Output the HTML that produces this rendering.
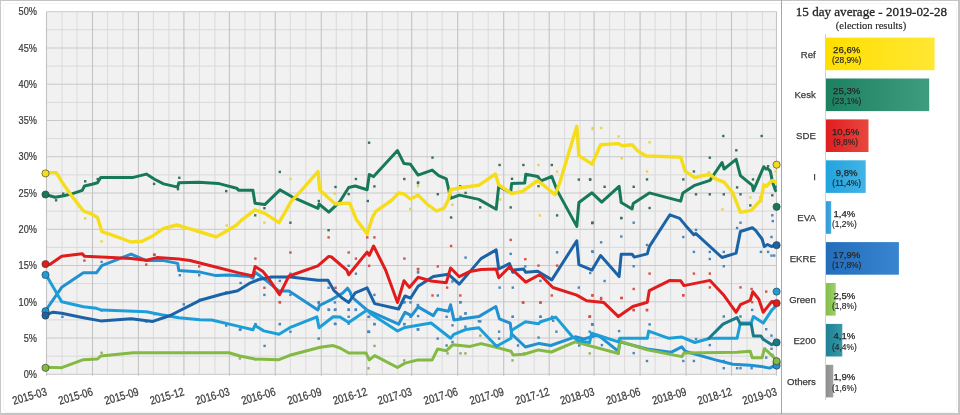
<!DOCTYPE html>
<html><head><meta charset="utf-8"><style>
html,body{margin:0;padding:0;background:#fff;}
body{width:960px;height:415px;overflow:hidden;position:relative;font-family:"Liberation Sans",sans-serif;}
svg{position:absolute;left:0;top:0;filter:blur(0.3px);font-family:"Liberation Sans",sans-serif;}
</style></head><body>
<svg width="960" height="415" viewBox="0 0 960 415">
<defs><linearGradient id="gref" x1="0" x2="1" y1="0" y2="0"><stop offset="0" stop-color="#ffdf00"/><stop offset="1" stop-color="#ffe733"/></linearGradient><linearGradient id="gkesk" x1="0" x2="1" y1="0" y2="0"><stop offset="0" stop-color="#1c8160"/><stop offset="1" stop-color="#3f9c7e"/></linearGradient><linearGradient id="gsde" x1="0" x2="1" y1="0" y2="0"><stop offset="0" stop-color="#df1d1f"/><stop offset="1" stop-color="#e9473f"/></linearGradient><linearGradient id="gi" x1="0" x2="1" y1="0" y2="0"><stop offset="0" stop-color="#22a3dd"/><stop offset="1" stop-color="#41b4e6"/></linearGradient><linearGradient id="geva" x1="0" x2="1" y1="0" y2="0"><stop offset="0" stop-color="#2e98d8"/><stop offset="1" stop-color="#45a8e0"/></linearGradient><linearGradient id="gekre" x1="0" x2="1" y1="0" y2="0"><stop offset="0" stop-color="#236dbb"/><stop offset="1" stop-color="#3985d0"/></linearGradient><linearGradient id="ggreen" x1="0" x2="1" y1="0" y2="0"><stop offset="0" stop-color="#82bd48"/><stop offset="1" stop-color="#9dd06a"/></linearGradient><linearGradient id="ge200" x1="0" x2="1" y1="0" y2="0"><stop offset="0" stop-color="#1d8093"/><stop offset="1" stop-color="#379aab"/></linearGradient><linearGradient id="goth" x1="0" x2="1" y1="0" y2="0"><stop offset="0" stop-color="#8c8c8c"/><stop offset="1" stop-color="#a2a2a2"/></linearGradient></defs>
<rect x="0" y="0" width="960" height="415" fill="#fff"/>
<rect x="0" y="0" width="960" height="1" fill="#c4c4c4"/><rect x="0" y="413" width="960" height="2" fill="#c4c4c4"/><rect x="0" y="0" width="1" height="415" fill="#c8c8c8"/><rect x="958" y="0" width="2" height="415" fill="#c4c4c4"/>
<rect x="3.5" y="3.5" width="953" height="409" rx="4" fill="none" stroke="#f5f5f5" stroke-width="1"/>
<line x1="781.5" y1="0" x2="781.5" y2="414" stroke="#a6a6a6" stroke-width="1"/>
<rect x="46.5" y="11.7" width="730.0" height="362.6" fill="#f1f1f1"/>
<line x1="62.0" y1="11.7" x2="62.0" y2="374.3" stroke="#dcdcdc" stroke-width="1.1"/>
<line x1="77.0" y1="11.7" x2="77.0" y2="374.3" stroke="#dcdcdc" stroke-width="1.1"/>
<line x1="107.5" y1="11.7" x2="107.5" y2="374.3" stroke="#dcdcdc" stroke-width="1.1"/>
<line x1="122.9" y1="11.7" x2="122.9" y2="374.3" stroke="#dcdcdc" stroke-width="1.1"/>
<line x1="153.4" y1="11.7" x2="153.4" y2="374.3" stroke="#dcdcdc" stroke-width="1.1"/>
<line x1="168.9" y1="11.7" x2="168.9" y2="374.3" stroke="#dcdcdc" stroke-width="1.1"/>
<line x1="199.4" y1="11.7" x2="199.4" y2="374.3" stroke="#dcdcdc" stroke-width="1.1"/>
<line x1="214.9" y1="11.7" x2="214.9" y2="374.3" stroke="#dcdcdc" stroke-width="1.1"/>
<line x1="244.9" y1="11.7" x2="244.9" y2="374.3" stroke="#dcdcdc" stroke-width="1.1"/>
<line x1="259.9" y1="11.7" x2="259.9" y2="374.3" stroke="#dcdcdc" stroke-width="1.1"/>
<line x1="290.3" y1="11.7" x2="290.3" y2="374.3" stroke="#dcdcdc" stroke-width="1.1"/>
<line x1="305.8" y1="11.7" x2="305.8" y2="374.3" stroke="#dcdcdc" stroke-width="1.1"/>
<line x1="336.3" y1="11.7" x2="336.3" y2="374.3" stroke="#dcdcdc" stroke-width="1.1"/>
<line x1="351.8" y1="11.7" x2="351.8" y2="374.3" stroke="#dcdcdc" stroke-width="1.1"/>
<line x1="382.3" y1="11.7" x2="382.3" y2="374.3" stroke="#dcdcdc" stroke-width="1.1"/>
<line x1="397.8" y1="11.7" x2="397.8" y2="374.3" stroke="#dcdcdc" stroke-width="1.1"/>
<line x1="427.2" y1="11.7" x2="427.2" y2="374.3" stroke="#dcdcdc" stroke-width="1.1"/>
<line x1="442.2" y1="11.7" x2="442.2" y2="374.3" stroke="#dcdcdc" stroke-width="1.1"/>
<line x1="472.7" y1="11.7" x2="472.7" y2="374.3" stroke="#dcdcdc" stroke-width="1.1"/>
<line x1="488.2" y1="11.7" x2="488.2" y2="374.3" stroke="#dcdcdc" stroke-width="1.1"/>
<line x1="518.7" y1="11.7" x2="518.7" y2="374.3" stroke="#dcdcdc" stroke-width="1.1"/>
<line x1="534.2" y1="11.7" x2="534.2" y2="374.3" stroke="#dcdcdc" stroke-width="1.1"/>
<line x1="564.6" y1="11.7" x2="564.6" y2="374.3" stroke="#dcdcdc" stroke-width="1.1"/>
<line x1="580.1" y1="11.7" x2="580.1" y2="374.3" stroke="#dcdcdc" stroke-width="1.1"/>
<line x1="609.6" y1="11.7" x2="609.6" y2="374.3" stroke="#dcdcdc" stroke-width="1.1"/>
<line x1="624.6" y1="11.7" x2="624.6" y2="374.3" stroke="#dcdcdc" stroke-width="1.1"/>
<line x1="655.1" y1="11.7" x2="655.1" y2="374.3" stroke="#dcdcdc" stroke-width="1.1"/>
<line x1="670.6" y1="11.7" x2="670.6" y2="374.3" stroke="#dcdcdc" stroke-width="1.1"/>
<line x1="701.1" y1="11.7" x2="701.1" y2="374.3" stroke="#dcdcdc" stroke-width="1.1"/>
<line x1="716.5" y1="11.7" x2="716.5" y2="374.3" stroke="#dcdcdc" stroke-width="1.1"/>
<line x1="747.0" y1="11.7" x2="747.0" y2="374.3" stroke="#dcdcdc" stroke-width="1.1"/>
<line x1="762.5" y1="11.7" x2="762.5" y2="374.3" stroke="#dcdcdc" stroke-width="1.1"/>
<line x1="46.5" y1="11.7" x2="776.5" y2="11.7" stroke="#c9c9c9" stroke-width="1"/>
<line x1="46.5" y1="29.8" x2="776.5" y2="29.8" stroke="#d9d9d9" stroke-width="1"/>
<line x1="46.5" y1="48.0" x2="776.5" y2="48.0" stroke="#c9c9c9" stroke-width="1"/>
<line x1="46.5" y1="66.1" x2="776.5" y2="66.1" stroke="#d9d9d9" stroke-width="1"/>
<line x1="46.5" y1="84.2" x2="776.5" y2="84.2" stroke="#c9c9c9" stroke-width="1"/>
<line x1="46.5" y1="102.4" x2="776.5" y2="102.4" stroke="#d9d9d9" stroke-width="1"/>
<line x1="46.5" y1="120.5" x2="776.5" y2="120.5" stroke="#c9c9c9" stroke-width="1"/>
<line x1="46.5" y1="138.6" x2="776.5" y2="138.6" stroke="#d9d9d9" stroke-width="1"/>
<line x1="46.5" y1="156.7" x2="776.5" y2="156.7" stroke="#c9c9c9" stroke-width="1"/>
<line x1="46.5" y1="174.9" x2="776.5" y2="174.9" stroke="#d9d9d9" stroke-width="1"/>
<line x1="46.5" y1="193.0" x2="776.5" y2="193.0" stroke="#c9c9c9" stroke-width="1"/>
<line x1="46.5" y1="211.1" x2="776.5" y2="211.1" stroke="#d9d9d9" stroke-width="1"/>
<line x1="46.5" y1="229.3" x2="776.5" y2="229.3" stroke="#c9c9c9" stroke-width="1"/>
<line x1="46.5" y1="247.4" x2="776.5" y2="247.4" stroke="#d9d9d9" stroke-width="1"/>
<line x1="46.5" y1="265.5" x2="776.5" y2="265.5" stroke="#c9c9c9" stroke-width="1"/>
<line x1="46.5" y1="283.6" x2="776.5" y2="283.6" stroke="#d9d9d9" stroke-width="1"/>
<line x1="46.5" y1="301.8" x2="776.5" y2="301.8" stroke="#c9c9c9" stroke-width="1"/>
<line x1="46.5" y1="319.9" x2="776.5" y2="319.9" stroke="#d9d9d9" stroke-width="1"/>
<line x1="46.5" y1="338.0" x2="776.5" y2="338.0" stroke="#c9c9c9" stroke-width="1"/>
<line x1="46.5" y1="356.2" x2="776.5" y2="356.2" stroke="#d9d9d9" stroke-width="1"/>
<line x1="46.5" y1="374.3" x2="776.5" y2="374.3" stroke="#c9c9c9" stroke-width="1"/>
<line x1="46.5" y1="11.7" x2="46.5" y2="375.8" stroke="#c4c4c4" stroke-width="1.1"/>
<line x1="92.5" y1="11.7" x2="92.5" y2="375.8" stroke="#c4c4c4" stroke-width="1.1"/>
<line x1="138.4" y1="11.7" x2="138.4" y2="375.8" stroke="#c4c4c4" stroke-width="1.1"/>
<line x1="183.9" y1="11.7" x2="183.9" y2="375.8" stroke="#c4c4c4" stroke-width="1.1"/>
<line x1="229.4" y1="11.7" x2="229.4" y2="375.8" stroke="#c4c4c4" stroke-width="1.1"/>
<line x1="275.3" y1="11.7" x2="275.3" y2="375.8" stroke="#c4c4c4" stroke-width="1.1"/>
<line x1="321.3" y1="11.7" x2="321.3" y2="375.8" stroke="#c4c4c4" stroke-width="1.1"/>
<line x1="366.8" y1="11.7" x2="366.8" y2="375.8" stroke="#c4c4c4" stroke-width="1.1"/>
<line x1="411.7" y1="11.7" x2="411.7" y2="375.8" stroke="#c4c4c4" stroke-width="1.1"/>
<line x1="457.7" y1="11.7" x2="457.7" y2="375.8" stroke="#c4c4c4" stroke-width="1.1"/>
<line x1="503.7" y1="11.7" x2="503.7" y2="375.8" stroke="#c4c4c4" stroke-width="1.1"/>
<line x1="549.2" y1="11.7" x2="549.2" y2="375.8" stroke="#c4c4c4" stroke-width="1.1"/>
<line x1="594.1" y1="11.7" x2="594.1" y2="375.8" stroke="#c4c4c4" stroke-width="1.1"/>
<line x1="640.1" y1="11.7" x2="640.1" y2="375.8" stroke="#c4c4c4" stroke-width="1.1"/>
<line x1="686.1" y1="11.7" x2="686.1" y2="375.8" stroke="#c4c4c4" stroke-width="1.1"/>
<line x1="731.5" y1="11.7" x2="731.5" y2="375.8" stroke="#c4c4c4" stroke-width="1.1"/>
<line x1="776.5" y1="11.7" x2="776.5" y2="375.8" stroke="#c4c4c4" stroke-width="1.1"/>
<rect x="84.0" y="217.2" width="2.4" height="2.4" fill="#e6d44a"/>
<rect x="100.4" y="240.2" width="2.4" height="2.4" fill="#e6d44a"/>
<rect x="225.5" y="224.3" width="2.4" height="2.4" fill="#e6d44a"/>
<rect x="289.2" y="177.8" width="2.4" height="2.4" fill="#e6d44a"/>
<rect x="263.2" y="221.5" width="2.4" height="2.4" fill="#e6d44a"/>
<rect x="409.0" y="207.8" width="2.4" height="2.4" fill="#e6d44a"/>
<rect x="333.5" y="192.4" width="2.4" height="2.4" fill="#e6d44a"/>
<rect x="416.8" y="185.0" width="2.4" height="2.4" fill="#e6d44a"/>
<rect x="538.6" y="214.2" width="2.4" height="2.4" fill="#e6d44a"/>
<rect x="537.3" y="163.8" width="2.4" height="2.4" fill="#e6d44a"/>
<rect x="555.9" y="170.5" width="2.4" height="2.4" fill="#e6d44a"/>
<rect x="591.6" y="126.8" width="2.4" height="2.4" fill="#e6d44a"/>
<rect x="451.2" y="203.6" width="2.4" height="2.4" fill="#e6d44a"/>
<rect x="498.9" y="198.3" width="2.4" height="2.4" fill="#e6d44a"/>
<rect x="599.9" y="126.8" width="2.4" height="2.4" fill="#e6d44a"/>
<rect x="591.4" y="127.9" width="2.4" height="2.4" fill="#e6d44a"/>
<rect x="617.4" y="135.3" width="2.4" height="2.4" fill="#e6d44a"/>
<rect x="648.4" y="141.1" width="2.4" height="2.4" fill="#e6d44a"/>
<rect x="645.8" y="170.3" width="2.4" height="2.4" fill="#e6d44a"/>
<rect x="620.6" y="157.0" width="2.4" height="2.4" fill="#e6d44a"/>
<rect x="707.5" y="171.1" width="2.4" height="2.4" fill="#e6d44a"/>
<rect x="721.3" y="208.2" width="2.4" height="2.4" fill="#e6d44a"/>
<rect x="749.1" y="196.2" width="2.4" height="2.4" fill="#e6d44a"/>
<rect x="759.7" y="200.2" width="2.4" height="2.4" fill="#e6d44a"/>
<rect x="774.3" y="170.3" width="2.4" height="2.4" fill="#e6d44a"/>
<rect x="100.4" y="351.6" width="2.4" height="2.4" fill="#8fae6a"/>
<rect x="238.7" y="357.2" width="2.4" height="2.4" fill="#8fae6a"/>
<rect x="254.5" y="358.2" width="2.4" height="2.4" fill="#8fae6a"/>
<rect x="403.0" y="359.2" width="2.4" height="2.4" fill="#8fae6a"/>
<rect x="511.3" y="315.6" width="2.4" height="2.4" fill="#8fae6a"/>
<rect x="479.1" y="334.4" width="2.4" height="2.4" fill="#8fae6a"/>
<rect x="373.3" y="344.7" width="2.4" height="2.4" fill="#8fae6a"/>
<rect x="367.3" y="367.1" width="2.4" height="2.4" fill="#8fae6a"/>
<rect x="446.4" y="352.2" width="2.4" height="2.4" fill="#8fae6a"/>
<rect x="459.3" y="352.2" width="2.4" height="2.4" fill="#8fae6a"/>
<rect x="464.2" y="352.2" width="2.4" height="2.4" fill="#8fae6a"/>
<rect x="522.6" y="352.2" width="2.4" height="2.4" fill="#8fae6a"/>
<rect x="588.5" y="352.2" width="2.4" height="2.4" fill="#8fae6a"/>
<rect x="511.3" y="359.2" width="2.4" height="2.4" fill="#8fae6a"/>
<rect x="278.7" y="322.9" width="2.4" height="2.4" fill="#8fae6a"/>
<rect x="648.4" y="323.2" width="2.4" height="2.4" fill="#3f8a8c"/>
<rect x="722.6" y="315.3" width="2.4" height="2.4" fill="#3f8a8c"/>
<rect x="739.3" y="315.3" width="2.4" height="2.4" fill="#3f8a8c"/>
<rect x="317.5" y="337.4" width="2.4" height="2.4" fill="#3f8a8c"/>
<rect x="459.3" y="301.2" width="2.4" height="2.4" fill="#3f8a8c"/>
<rect x="373.3" y="322.9" width="2.4" height="2.4" fill="#3f8a8c"/>
<rect x="367.3" y="330.5" width="2.4" height="2.4" fill="#3f8a8c"/>
<rect x="100.4" y="260.7" width="2.4" height="2.4" fill="#4d86b8"/>
<rect x="178.6" y="274.0" width="2.4" height="2.4" fill="#4d86b8"/>
<rect x="198.0" y="274.0" width="2.4" height="2.4" fill="#4d86b8"/>
<rect x="182.6" y="303.1" width="2.4" height="2.4" fill="#4d86b8"/>
<rect x="225.0" y="324.3" width="2.4" height="2.4" fill="#4d86b8"/>
<rect x="61.2" y="315.6" width="2.4" height="2.4" fill="#4d86b8"/>
<rect x="100.4" y="309.2" width="2.4" height="2.4" fill="#4d86b8"/>
<rect x="145.0" y="320.3" width="2.4" height="2.4" fill="#4d86b8"/>
<rect x="153.4" y="312.9" width="2.4" height="2.4" fill="#4d86b8"/>
<rect x="198.5" y="298.6" width="2.4" height="2.4" fill="#4d86b8"/>
<rect x="225.0" y="291.2" width="2.4" height="2.4" fill="#4d86b8"/>
<rect x="239.4" y="281.8" width="2.4" height="2.4" fill="#4d86b8"/>
<rect x="263.2" y="293.7" width="2.4" height="2.4" fill="#4d86b8"/>
<rect x="278.6" y="279.7" width="2.4" height="2.4" fill="#4d86b8"/>
<rect x="289.2" y="272.5" width="2.4" height="2.4" fill="#4d86b8"/>
<rect x="289.2" y="293.7" width="2.4" height="2.4" fill="#4d86b8"/>
<rect x="327.4" y="286.6" width="2.4" height="2.4" fill="#4d86b8"/>
<rect x="347.5" y="264.6" width="2.4" height="2.4" fill="#4d86b8"/>
<rect x="354.7" y="272.5" width="2.4" height="2.4" fill="#4d86b8"/>
<rect x="373.2" y="293.7" width="2.4" height="2.4" fill="#4d86b8"/>
<rect x="403.2" y="300.9" width="2.4" height="2.4" fill="#4d86b8"/>
<rect x="416.9" y="270.7" width="2.4" height="2.4" fill="#4d86b8"/>
<rect x="327.4" y="308.3" width="2.4" height="2.4" fill="#4d86b8"/>
<rect x="334.3" y="308.3" width="2.4" height="2.4" fill="#4d86b8"/>
<rect x="347.5" y="308.3" width="2.4" height="2.4" fill="#4d86b8"/>
<rect x="354.7" y="308.3" width="2.4" height="2.4" fill="#4d86b8"/>
<rect x="367.9" y="315.7" width="2.4" height="2.4" fill="#4d86b8"/>
<rect x="373.2" y="322.9" width="2.4" height="2.4" fill="#4d86b8"/>
<rect x="403.2" y="322.9" width="2.4" height="2.4" fill="#4d86b8"/>
<rect x="416.9" y="314.9" width="2.4" height="2.4" fill="#4d86b8"/>
<rect x="239.4" y="328.2" width="2.4" height="2.4" fill="#4d86b8"/>
<rect x="278.6" y="322.9" width="2.4" height="2.4" fill="#4d86b8"/>
<rect x="334.3" y="322.9" width="2.4" height="2.4" fill="#4d86b8"/>
<rect x="367.9" y="330.8" width="2.4" height="2.4" fill="#4d86b8"/>
<rect x="416.9" y="328.2" width="2.4" height="2.4" fill="#4d86b8"/>
<rect x="254.2" y="322.9" width="2.4" height="2.4" fill="#4d86b8"/>
<rect x="317.6" y="300.9" width="2.4" height="2.4" fill="#4d86b8"/>
<rect x="416.8" y="271.3" width="2.4" height="2.4" fill="#4d86b8"/>
<rect x="436.6" y="294.3" width="2.4" height="2.4" fill="#4d86b8"/>
<rect x="464.4" y="256.4" width="2.4" height="2.4" fill="#4d86b8"/>
<rect x="451.2" y="280.3" width="2.4" height="2.4" fill="#4d86b8"/>
<rect x="509.5" y="252.7" width="2.4" height="2.4" fill="#4d86b8"/>
<rect x="498.4" y="286.4" width="2.4" height="2.4" fill="#4d86b8"/>
<rect x="511.6" y="286.4" width="2.4" height="2.4" fill="#4d86b8"/>
<rect x="524.1" y="265.2" width="2.4" height="2.4" fill="#4d86b8"/>
<rect x="524.1" y="280.3" width="2.4" height="2.4" fill="#4d86b8"/>
<rect x="539.2" y="279.7" width="2.4" height="2.4" fill="#4d86b8"/>
<rect x="555.9" y="251.1" width="2.4" height="2.4" fill="#4d86b8"/>
<rect x="577.6" y="286.4" width="2.4" height="2.4" fill="#4d86b8"/>
<rect x="591.1" y="250.1" width="2.4" height="2.4" fill="#4d86b8"/>
<rect x="591.1" y="222.0" width="2.4" height="2.4" fill="#4d86b8"/>
<rect x="589.0" y="271.8" width="2.4" height="2.4" fill="#4d86b8"/>
<rect x="416.8" y="304.1" width="2.4" height="2.4" fill="#4d86b8"/>
<rect x="459.1" y="300.9" width="2.4" height="2.4" fill="#4d86b8"/>
<rect x="464.4" y="312.1" width="2.4" height="2.4" fill="#4d86b8"/>
<rect x="477.7" y="320.0" width="2.4" height="2.4" fill="#4d86b8"/>
<rect x="511.6" y="315.5" width="2.4" height="2.4" fill="#4d86b8"/>
<rect x="539.2" y="315.5" width="2.4" height="2.4" fill="#4d86b8"/>
<rect x="551.9" y="319.5" width="2.4" height="2.4" fill="#4d86b8"/>
<rect x="591.1" y="323.5" width="2.4" height="2.4" fill="#4d86b8"/>
<rect x="591.4" y="221.5" width="2.4" height="2.4" fill="#4d86b8"/>
<rect x="620.1" y="216.8" width="2.4" height="2.4" fill="#4d86b8"/>
<rect x="632.5" y="221.5" width="2.4" height="2.4" fill="#4d86b8"/>
<rect x="599.9" y="241.1" width="2.4" height="2.4" fill="#4d86b8"/>
<rect x="620.1" y="235.3" width="2.4" height="2.4" fill="#4d86b8"/>
<rect x="682.1" y="235.8" width="2.4" height="2.4" fill="#4d86b8"/>
<rect x="694.8" y="228.7" width="2.4" height="2.4" fill="#4d86b8"/>
<rect x="591.4" y="250.7" width="2.4" height="2.4" fill="#4d86b8"/>
<rect x="632.5" y="265.0" width="2.4" height="2.4" fill="#4d86b8"/>
<rect x="645.8" y="243.8" width="2.4" height="2.4" fill="#4d86b8"/>
<rect x="692.7" y="250.7" width="2.4" height="2.4" fill="#4d86b8"/>
<rect x="708.6" y="250.7" width="2.4" height="2.4" fill="#4d86b8"/>
<rect x="708.6" y="257.8" width="2.4" height="2.4" fill="#4d86b8"/>
<rect x="722.6" y="250.7" width="2.4" height="2.4" fill="#4d86b8"/>
<rect x="722.6" y="265.0" width="2.4" height="2.4" fill="#4d86b8"/>
<rect x="735.9" y="226.8" width="2.4" height="2.4" fill="#4d86b8"/>
<rect x="739.3" y="221.5" width="2.4" height="2.4" fill="#4d86b8"/>
<rect x="759.7" y="250.7" width="2.4" height="2.4" fill="#4d86b8"/>
<rect x="766.9" y="250.7" width="2.4" height="2.4" fill="#4d86b8"/>
<rect x="770.3" y="254.4" width="2.4" height="2.4" fill="#4d86b8"/>
<rect x="773.0" y="254.4" width="2.4" height="2.4" fill="#4d86b8"/>
<rect x="771.1" y="214.1" width="2.4" height="2.4" fill="#4d86b8"/>
<rect x="771.6" y="219.9" width="2.4" height="2.4" fill="#4d86b8"/>
<rect x="770.3" y="235.8" width="2.4" height="2.4" fill="#4d86b8"/>
<rect x="603.4" y="279.8" width="2.4" height="2.4" fill="#4d86b8"/>
<rect x="617.9" y="329.9" width="2.4" height="2.4" fill="#4d86b8"/>
<rect x="591.4" y="323.2" width="2.4" height="2.4" fill="#4d86b8"/>
<rect x="600.7" y="343.9" width="2.4" height="2.4" fill="#4d86b8"/>
<rect x="632.5" y="351.9" width="2.4" height="2.4" fill="#4d86b8"/>
<rect x="645.8" y="359.8" width="2.4" height="2.4" fill="#4d86b8"/>
<rect x="694.8" y="337.8" width="2.4" height="2.4" fill="#4d86b8"/>
<rect x="682.1" y="359.8" width="2.4" height="2.4" fill="#4d86b8"/>
<rect x="692.7" y="359.8" width="2.4" height="2.4" fill="#4d86b8"/>
<rect x="708.6" y="343.9" width="2.4" height="2.4" fill="#4d86b8"/>
<rect x="722.6" y="359.8" width="2.4" height="2.4" fill="#4d86b8"/>
<rect x="722.6" y="367.0" width="2.4" height="2.4" fill="#4d86b8"/>
<rect x="735.9" y="367.0" width="2.4" height="2.4" fill="#4d86b8"/>
<rect x="739.3" y="367.0" width="2.4" height="2.4" fill="#4d86b8"/>
<rect x="750.4" y="367.0" width="2.4" height="2.4" fill="#4d86b8"/>
<rect x="751.0" y="308.7" width="2.4" height="2.4" fill="#4d86b8"/>
<rect x="765.0" y="328.0" width="2.4" height="2.4" fill="#4d86b8"/>
<rect x="770.3" y="334.4" width="2.4" height="2.4" fill="#4d86b8"/>
<rect x="763.7" y="347.6" width="2.4" height="2.4" fill="#4d86b8"/>
<rect x="771.1" y="353.7" width="2.4" height="2.4" fill="#4d86b8"/>
<rect x="765.0" y="356.4" width="2.4" height="2.4" fill="#4d86b8"/>
<rect x="770.3" y="347.6" width="2.4" height="2.4" fill="#4d86b8"/>
<rect x="317.5" y="301.8" width="2.4" height="2.4" fill="#4d86b8"/>
<rect x="333.7" y="301.2" width="2.4" height="2.4" fill="#4d86b8"/>
<rect x="327.8" y="308.7" width="2.4" height="2.4" fill="#4d86b8"/>
<rect x="333.7" y="308.7" width="2.4" height="2.4" fill="#4d86b8"/>
<rect x="347.5" y="308.7" width="2.4" height="2.4" fill="#4d86b8"/>
<rect x="354.5" y="308.7" width="2.4" height="2.4" fill="#4d86b8"/>
<rect x="347.5" y="315.6" width="2.4" height="2.4" fill="#4d86b8"/>
<rect x="367.3" y="315.6" width="2.4" height="2.4" fill="#4d86b8"/>
<rect x="333.7" y="322.5" width="2.4" height="2.4" fill="#4d86b8"/>
<rect x="347.5" y="322.5" width="2.4" height="2.4" fill="#4d86b8"/>
<rect x="254.5" y="323.5" width="2.4" height="2.4" fill="#4d86b8"/>
<rect x="238.7" y="328.5" width="2.4" height="2.4" fill="#4d86b8"/>
<rect x="289.2" y="330.5" width="2.4" height="2.4" fill="#4d86b8"/>
<rect x="367.3" y="330.5" width="2.4" height="2.4" fill="#4d86b8"/>
<rect x="263.4" y="344.7" width="2.4" height="2.4" fill="#4d86b8"/>
<rect x="403.0" y="301.2" width="2.4" height="2.4" fill="#4d86b8"/>
<rect x="409.3" y="301.2" width="2.4" height="2.4" fill="#4d86b8"/>
<rect x="403.0" y="322.9" width="2.4" height="2.4" fill="#4d86b8"/>
<rect x="409.3" y="315.6" width="2.4" height="2.4" fill="#4d86b8"/>
<rect x="416.8" y="328.1" width="2.4" height="2.4" fill="#4d86b8"/>
<rect x="416.7" y="303.8" width="2.4" height="2.4" fill="#4d86b8"/>
<rect x="464.2" y="312.3" width="2.4" height="2.4" fill="#4d86b8"/>
<rect x="445.4" y="315.6" width="2.4" height="2.4" fill="#4d86b8"/>
<rect x="459.3" y="315.6" width="2.4" height="2.4" fill="#4d86b8"/>
<rect x="479.1" y="320.2" width="2.4" height="2.4" fill="#4d86b8"/>
<rect x="539.4" y="315.6" width="2.4" height="2.4" fill="#4d86b8"/>
<rect x="550.9" y="315.6" width="2.4" height="2.4" fill="#4d86b8"/>
<rect x="590.9" y="322.9" width="2.4" height="2.4" fill="#4d86b8"/>
<rect x="416.7" y="328.1" width="2.4" height="2.4" fill="#4d86b8"/>
<rect x="451.3" y="324.1" width="2.4" height="2.4" fill="#4d86b8"/>
<rect x="464.2" y="325.5" width="2.4" height="2.4" fill="#4d86b8"/>
<rect x="497.9" y="330.5" width="2.4" height="2.4" fill="#4d86b8"/>
<rect x="555.2" y="330.5" width="2.4" height="2.4" fill="#4d86b8"/>
<rect x="588.5" y="330.5" width="2.4" height="2.4" fill="#4d86b8"/>
<rect x="436.5" y="337.4" width="2.4" height="2.4" fill="#4d86b8"/>
<rect x="451.3" y="340.8" width="2.4" height="2.4" fill="#4d86b8"/>
<rect x="497.9" y="337.4" width="2.4" height="2.4" fill="#4d86b8"/>
<rect x="537.4" y="336.4" width="2.4" height="2.4" fill="#4d86b8"/>
<rect x="445.4" y="344.3" width="2.4" height="2.4" fill="#4d86b8"/>
<rect x="516.8" y="344.3" width="2.4" height="2.4" fill="#4d86b8"/>
<rect x="578.0" y="344.3" width="2.4" height="2.4" fill="#4d86b8"/>
<rect x="152.9" y="253.5" width="2.4" height="2.4" fill="#d8504a"/>
<rect x="83.2" y="259.4" width="2.4" height="2.4" fill="#d8504a"/>
<rect x="153.4" y="253.6" width="2.4" height="2.4" fill="#d8504a"/>
<rect x="145.0" y="263.4" width="2.4" height="2.4" fill="#d8504a"/>
<rect x="198.0" y="265.2" width="2.4" height="2.4" fill="#d8504a"/>
<rect x="327.4" y="236.2" width="2.4" height="2.4" fill="#d8504a"/>
<rect x="366.1" y="236.2" width="2.4" height="2.4" fill="#d8504a"/>
<rect x="373.2" y="236.2" width="2.4" height="2.4" fill="#d8504a"/>
<rect x="289.2" y="251.3" width="2.4" height="2.4" fill="#d8504a"/>
<rect x="254.2" y="257.4" width="2.4" height="2.4" fill="#d8504a"/>
<rect x="347.5" y="251.3" width="2.4" height="2.4" fill="#d8504a"/>
<rect x="403.2" y="257.4" width="2.4" height="2.4" fill="#d8504a"/>
<rect x="416.9" y="268.0" width="2.4" height="2.4" fill="#d8504a"/>
<rect x="367.9" y="264.6" width="2.4" height="2.4" fill="#d8504a"/>
<rect x="263.2" y="286.6" width="2.4" height="2.4" fill="#d8504a"/>
<rect x="278.6" y="300.9" width="2.4" height="2.4" fill="#d8504a"/>
<rect x="334.3" y="286.6" width="2.4" height="2.4" fill="#d8504a"/>
<rect x="354.7" y="257.4" width="2.4" height="2.4" fill="#d8504a"/>
<rect x="509.5" y="238.7" width="2.4" height="2.4" fill="#d8504a"/>
<rect x="449.9" y="244.8" width="2.4" height="2.4" fill="#d8504a"/>
<rect x="416.8" y="267.8" width="2.4" height="2.4" fill="#d8504a"/>
<rect x="436.6" y="265.2" width="2.4" height="2.4" fill="#d8504a"/>
<rect x="524.1" y="258.0" width="2.4" height="2.4" fill="#d8504a"/>
<rect x="537.3" y="264.4" width="2.4" height="2.4" fill="#d8504a"/>
<rect x="555.9" y="264.4" width="2.4" height="2.4" fill="#d8504a"/>
<rect x="431.3" y="294.3" width="2.4" height="2.4" fill="#d8504a"/>
<rect x="459.1" y="294.3" width="2.4" height="2.4" fill="#d8504a"/>
<rect x="445.9" y="286.4" width="2.4" height="2.4" fill="#d8504a"/>
<rect x="522.2" y="301.5" width="2.4" height="2.4" fill="#d8504a"/>
<rect x="539.2" y="301.5" width="2.4" height="2.4" fill="#d8504a"/>
<rect x="550.6" y="294.3" width="2.4" height="2.4" fill="#d8504a"/>
<rect x="591.1" y="294.3" width="2.4" height="2.4" fill="#d8504a"/>
<rect x="588.5" y="315.5" width="2.4" height="2.4" fill="#d8504a"/>
<rect x="648.4" y="272.4" width="2.4" height="2.4" fill="#d8504a"/>
<rect x="692.7" y="272.4" width="2.4" height="2.4" fill="#d8504a"/>
<rect x="708.6" y="272.4" width="2.4" height="2.4" fill="#d8504a"/>
<rect x="632.5" y="287.8" width="2.4" height="2.4" fill="#d8504a"/>
<rect x="708.6" y="286.2" width="2.4" height="2.4" fill="#d8504a"/>
<rect x="682.1" y="294.1" width="2.4" height="2.4" fill="#d8504a"/>
<rect x="591.4" y="294.1" width="2.4" height="2.4" fill="#d8504a"/>
<rect x="599.9" y="296.8" width="2.4" height="2.4" fill="#d8504a"/>
<rect x="620.1" y="296.8" width="2.4" height="2.4" fill="#d8504a"/>
<rect x="632.5" y="309.0" width="2.4" height="2.4" fill="#d8504a"/>
<rect x="645.8" y="309.0" width="2.4" height="2.4" fill="#d8504a"/>
<rect x="739.3" y="286.2" width="2.4" height="2.4" fill="#d8504a"/>
<rect x="750.4" y="287.8" width="2.4" height="2.4" fill="#d8504a"/>
<rect x="751.0" y="301.0" width="2.4" height="2.4" fill="#d8504a"/>
<rect x="765.0" y="290.4" width="2.4" height="2.4" fill="#d8504a"/>
<rect x="620.6" y="296.8" width="2.4" height="2.4" fill="#d8504a"/>
<rect x="599.9" y="298.1" width="2.4" height="2.4" fill="#d8504a"/>
<rect x="645.8" y="308.7" width="2.4" height="2.4" fill="#d8504a"/>
<rect x="632.5" y="308.7" width="2.4" height="2.4" fill="#d8504a"/>
<rect x="682.1" y="294.1" width="2.4" height="2.4" fill="#d8504a"/>
<rect x="588.8" y="315.3" width="2.4" height="2.4" fill="#d8504a"/>
<rect x="521.6" y="301.2" width="2.4" height="2.4" fill="#d8504a"/>
<rect x="539.4" y="301.2" width="2.4" height="2.4" fill="#d8504a"/>
<rect x="588.5" y="315.6" width="2.4" height="2.4" fill="#d8504a"/>
<rect x="278.7" y="301.2" width="2.4" height="2.4" fill="#d8504a"/>
<rect x="54.9" y="199.1" width="2.4" height="2.4" fill="#3f6f58"/>
<rect x="62.0" y="192.5" width="2.4" height="2.4" fill="#3f6f58"/>
<rect x="84.0" y="180.1" width="2.4" height="2.4" fill="#3f6f58"/>
<rect x="96.5" y="177.9" width="2.4" height="2.4" fill="#3f6f58"/>
<rect x="152.9" y="182.7" width="2.4" height="2.4" fill="#3f6f58"/>
<rect x="176.8" y="188.0" width="2.4" height="2.4" fill="#3f6f58"/>
<rect x="178.1" y="176.6" width="2.4" height="2.4" fill="#3f6f58"/>
<rect x="225.0" y="189.9" width="2.4" height="2.4" fill="#3f6f58"/>
<rect x="367.9" y="141.5" width="2.4" height="2.4" fill="#3f6f58"/>
<rect x="278.6" y="170.7" width="2.4" height="2.4" fill="#3f6f58"/>
<rect x="354.7" y="177.8" width="2.4" height="2.4" fill="#3f6f58"/>
<rect x="334.3" y="185.8" width="2.4" height="2.4" fill="#3f6f58"/>
<rect x="373.2" y="185.2" width="2.4" height="2.4" fill="#3f6f58"/>
<rect x="403.1" y="177.8" width="2.4" height="2.4" fill="#3f6f58"/>
<rect x="263.2" y="207.0" width="2.4" height="2.4" fill="#3f6f58"/>
<rect x="254.0" y="214.1" width="2.4" height="2.4" fill="#3f6f58"/>
<rect x="289.2" y="221.5" width="2.4" height="2.4" fill="#3f6f58"/>
<rect x="317.6" y="199.8" width="2.4" height="2.4" fill="#3f6f58"/>
<rect x="347.5" y="192.9" width="2.4" height="2.4" fill="#3f6f58"/>
<rect x="366.6" y="199.8" width="2.4" height="2.4" fill="#3f6f58"/>
<rect x="327.4" y="229.0" width="2.4" height="2.4" fill="#3f6f58"/>
<rect x="416.9" y="181.3" width="2.4" height="2.4" fill="#3f6f58"/>
<rect x="431.3" y="156.4" width="2.4" height="2.4" fill="#3f6f58"/>
<rect x="416.8" y="181.9" width="2.4" height="2.4" fill="#3f6f58"/>
<rect x="436.6" y="193.0" width="2.4" height="2.4" fill="#3f6f58"/>
<rect x="459.1" y="185.0" width="2.4" height="2.4" fill="#3f6f58"/>
<rect x="464.4" y="191.7" width="2.4" height="2.4" fill="#3f6f58"/>
<rect x="479.0" y="206.2" width="2.4" height="2.4" fill="#3f6f58"/>
<rect x="449.9" y="216.3" width="2.4" height="2.4" fill="#3f6f58"/>
<rect x="498.4" y="163.8" width="2.4" height="2.4" fill="#3f6f58"/>
<rect x="522.2" y="163.8" width="2.4" height="2.4" fill="#3f6f58"/>
<rect x="550.6" y="163.8" width="2.4" height="2.4" fill="#3f6f58"/>
<rect x="510.8" y="177.6" width="2.4" height="2.4" fill="#3f6f58"/>
<rect x="537.3" y="185.0" width="2.4" height="2.4" fill="#3f6f58"/>
<rect x="509.5" y="206.2" width="2.4" height="2.4" fill="#3f6f58"/>
<rect x="555.9" y="214.2" width="2.4" height="2.4" fill="#3f6f58"/>
<rect x="577.6" y="178.4" width="2.4" height="2.4" fill="#3f6f58"/>
<rect x="589.0" y="178.4" width="2.4" height="2.4" fill="#3f6f58"/>
<rect x="591.1" y="221.6" width="2.4" height="2.4" fill="#3f6f58"/>
<rect x="722.1" y="134.8" width="2.4" height="2.4" fill="#3f6f58"/>
<rect x="760.5" y="134.8" width="2.4" height="2.4" fill="#3f6f58"/>
<rect x="735.1" y="149.1" width="2.4" height="2.4" fill="#3f6f58"/>
<rect x="708.6" y="156.5" width="2.4" height="2.4" fill="#3f6f58"/>
<rect x="692.7" y="170.3" width="2.4" height="2.4" fill="#3f6f58"/>
<rect x="645.8" y="178.2" width="2.4" height="2.4" fill="#3f6f58"/>
<rect x="682.1" y="178.2" width="2.4" height="2.4" fill="#3f6f58"/>
<rect x="603.4" y="185.6" width="2.4" height="2.4" fill="#3f6f58"/>
<rect x="632.5" y="185.6" width="2.4" height="2.4" fill="#3f6f58"/>
<rect x="694.8" y="193.1" width="2.4" height="2.4" fill="#3f6f58"/>
<rect x="708.6" y="193.1" width="2.4" height="2.4" fill="#3f6f58"/>
<rect x="722.6" y="193.1" width="2.4" height="2.4" fill="#3f6f58"/>
<rect x="735.9" y="186.2" width="2.4" height="2.4" fill="#3f6f58"/>
<rect x="739.3" y="193.1" width="2.4" height="2.4" fill="#3f6f58"/>
<rect x="751.8" y="178.2" width="2.4" height="2.4" fill="#3f6f58"/>
<rect x="766.9" y="165.0" width="2.4" height="2.4" fill="#3f6f58"/>
<rect x="648.4" y="206.8" width="2.4" height="2.4" fill="#3f6f58"/>
<rect x="620.1" y="216.9" width="2.4" height="2.4" fill="#3f6f58"/>
<rect x="749.1" y="204.2" width="2.4" height="2.4" fill="#3f6f58"/>
<rect x="759.7" y="196.2" width="2.4" height="2.4" fill="#3f6f58"/>
<rect x="771.1" y="194.1" width="2.4" height="2.4" fill="#3f6f58"/>
<rect x="774.3" y="185.6" width="2.4" height="2.4" fill="#3f6f58"/>
<rect x="588.8" y="178.2" width="2.4" height="2.4" fill="#3f6f58"/>
<polyline points="46.0,310.0 61.7,287.3 83.4,272.8 96.4,272.8 101.8,265.6 131.1,254.1 146.3,260.6 163.6,260.6 177.7,263.4 178.8,270.6 200.0,272.1 216.0,275.6 229.0,275.0 250.0,276.6 252.9,278.1 255.1,272.3 265.9,280.2 278.9,291.1 289.0,291.1 317.9,309.9 319.4,305.5 333.8,298.3 342.5,293.2 347.5,288.2 350.0,291.8 352.0,297.1 367.1,310.1 398.6,324.2 405.0,312.3 411.6,315.6 418.1,306.9 433.3,315.6 437.6,309.0 448.5,311.2 450.6,304.7 453.9,319.9 478.8,316.6 495.8,306.5 499.4,318.8 510.2,323.1 511.7,334.0 525.4,347.0 539.1,343.4 550.7,345.5 575.3,336.8 583.7,339.0 596.7,335.4 600.3,336.8 618.4,351.3 619.8,341.9 647.1,349.0 671.0,352.3 681.8,346.9 685.1,351.2 715.4,359.9 732.8,364.2 750.2,365.3 761.0,366.4 769.7,368.1 775.1,365.3" fill="none" stroke="#2191d2" stroke-width="3" stroke-linejoin="round" stroke-linecap="round"/>
<polyline points="46.0,367.2 61.7,367.7 83.4,359.7 97.5,359.0 100.7,356.0 133.3,352.7 229.0,352.7 239.9,356.0 255.0,359.0 279.0,359.7 289.8,355.3 320.2,347.3 333.2,345.6 340.0,348.0 348.7,353.0 366.0,353.0 369.3,359.9 374.7,355.6 397.5,367.5 405.0,363.1 418.1,359.9 432.2,359.9 437.6,349.0 446.3,350.8 452.8,344.7 470.1,346.4 481.0,343.6 496.2,347.3 511.0,351.3 513.1,354.9 524.0,354.2 538.4,349.9 551.4,352.0 575.3,341.9 618.4,353.5 619.8,341.2 647.3,349.9 681.8,356.6 684.0,353.0 737.1,352.3 750.2,351.2 752.3,357.7 762.1,357.7 764.3,349.0 767.5,351.2 775.1,358.8" fill="none" stroke="#84b943" stroke-width="3" stroke-linejoin="round" stroke-linecap="round"/>
<polyline points="46.0,274.7 61.7,301.8 83.4,306.8 96.4,308.3 101.8,310.1 146.3,311.8 161.5,314.8 178.8,317.7 200.0,319.8 211.7,320.0 239.9,326.6 252.9,329.8 255.0,325.5 263.8,330.9 279.0,334.2 289.8,327.7 316.9,316.8 319.0,327.7 333.2,316.8 340.0,317.0 348.7,322.5 367.1,310.0 370.4,313.4 397.5,331.0 405.0,327.4 431.1,323.0 450.6,338.2 453.9,334.3 465.8,329.5 478.8,327.8 496.5,346.2 511.0,338.3 511.7,330.3 525.4,321.7 538.4,323.8 540.6,321.7 555.8,317.1 572.4,336.8 578.2,340.5 589.5,342.6 591.6,333.2 618.4,341.9 619.8,338.3 647.3,338.3 648.7,331.1 668.9,338.3 681.8,337.1 694.8,342.5 710.0,338.2 737.1,338.2 740.4,323.0 751.2,323.1 753.4,316.6 763.2,323.1 771.8,310.1 775.1,306.9" fill="none" stroke="#1c9fd8" stroke-width="3" stroke-linejoin="round" stroke-linecap="round"/>
<polyline points="708.9,338.2 723.0,324.1 737.1,317.6 740.4,324.1 751.2,324.1 753.4,336.0 761.0,336.0 763.2,339.3 771.8,344.7 775.1,342.5" fill="none" stroke="#1b7a8a" stroke-width="3" stroke-linejoin="round" stroke-linecap="round"/>
<polyline points="46.0,314.8 53.0,312.2 61.7,313.3 83.4,317.7 100.7,320.9 131.1,318.8 152.8,321.4 170.2,315.5 200.0,300.3 222.5,294.0 237.7,290.8 250.0,283.1 258.7,279.5 271.7,277.1 290.5,277.1 317.9,280.2 328.0,280.2 333.8,290.3 342.5,298.3 348.7,302.5 355.2,292.8 367.1,287.8 374.7,303.6 398.6,309.0 405.0,296.0 410.5,298.2 418.1,286.3 433.3,276.5 448.5,274.3 459.3,284.1 481.0,258.6 496.2,249.9 498.7,269.0 509.5,263.6 512.8,272.3 513.9,270.1 523.6,269.0 525.8,272.3 537.7,271.2 551.8,279.9 576.8,240.8 578.9,264.7 592.0,270.1 600.6,255.6 619.1,276.6 621.2,254.3 632.1,254.3 634.3,257.1 647.3,253.9 649.3,246.6 669.9,214.8 679.7,218.4 685.1,224.9 693.8,234.7 695.9,233.6 722.0,257.5 736.1,253.1 740.4,231.5 752.3,227.8 755.6,230.4 762.1,239.0 764.3,246.6 767.5,244.5 771.8,246.6 775.1,244.5" fill="none" stroke="#1b63a6" stroke-width="3" stroke-linejoin="round" stroke-linecap="round"/>
<polyline points="46.0,263.9 49.8,264.5 61.7,256.3 82.3,253.7 84.5,256.3 111.6,257.6 131.1,258.4 146.3,260.2 157.1,257.6 178.8,259.1 190.0,260.5 211.7,266.0 237.7,272.6 252.9,275.9 255.1,266.5 263.0,271.6 268.8,278.8 279.6,294.7 289.0,275.9 293.4,274.5 317.9,265.8 328.8,256.4 331.5,257.0 346.8,270.1 348.7,274.8 367.1,252.1 369.3,255.3 373.6,246.0 385.6,270.0 397.5,302.5 404.0,280.8 409.4,287.4 418.1,277.3 431.1,281.0 446.3,282.7 450.6,268.0 459.3,276.7 470.1,271.4 481.0,269.4 496.2,269.0 498.7,277.7 509.5,266.9 513.9,271.2 525.8,282.1 539.9,274.5 552.9,287.5 576.8,295.1 586.6,300.7 603.9,302.6 618.4,316.6 632.8,306.5 647.3,302.2 649.3,290.6 669.9,280.4 680.7,280.8 684.0,285.6 710.0,280.4 724.1,295.6 736.1,312.3 740.4,304.7 750.2,300.4 752.8,291.7 758.8,299.3 763.2,312.3 767.5,306.9 771.8,301.5 775.1,302.5" fill="none" stroke="#e01c1c" stroke-width="3" stroke-linejoin="round" stroke-linecap="round"/>
<polyline points="46.0,194.7 55.2,197.3 63.9,195.8 72.5,193.6 82.3,190.4 84.5,186.0 92.0,184.3 97.5,182.8 100.7,177.4 133.3,177.4 146.3,174.1 155.0,179.5 163.6,183.9 177.7,187.1 178.8,182.8 198.7,182.3 218.2,183.4 224.7,185.1 236.6,188.2 238.8,190.3 252.9,190.3 255.0,203.3 264.8,204.6 280.0,189.9 292.0,196.8 318.0,208.3 319.0,204.0 328.8,212.2 339.7,201.8 348.7,187.5 355.2,186.0 367.1,189.7 369.3,174.5 373.6,176.6 397.5,150.6 404.0,163.6 410.5,164.3 418.1,175.1 432.2,170.1 438.7,175.6 446.3,178.8 450.6,198.3 459.3,195.1 478.8,199.4 496.2,209.2 498.7,186.3 510.6,192.8 511.7,183.4 524.7,183.0 525.8,174.3 537.7,176.5 541.0,180.8 551.8,176.5 557.2,190.6 576.8,226.4 578.9,202.5 592.0,192.8 601.7,202.1 619.1,186.3 621.2,202.5 632.1,209.0 633.2,203.6 649.3,192.9 680.7,201.1 682.9,192.9 694.8,185.3 710.0,180.3 722.0,162.5 724.1,169.0 736.1,159.3 740.4,175.6 752.3,185.3 753.4,190.7 763.8,166.7 766.0,169.0 767.4,168.2 770.3,171.1 772.5,181.9 775.5,190.6" fill="none" stroke="#17795a" stroke-width="3" stroke-linejoin="round" stroke-linecap="round"/>
<polyline points="46.0,172.6 56.3,172.6 61.7,181.7 72.5,196.9 83.4,211.0 92.0,214.2 97.5,217.5 101.8,231.6 111.6,234.8 131.0,242.0 142.0,241.3 152.8,235.9 163.6,228.3 176.7,225.0 191.8,229.4 198.7,231.5 216.0,236.9 225.8,231.5 236.6,225.0 241.0,220.6 255.0,209.8 264.8,213.4 279.0,222.6 290.9,201.8 302.8,188.8 318.0,171.5 319.7,189.9 335.3,204.0 344.0,203.3 349.8,203.3 356.3,219.5 367.1,233.6 372.5,217.4 375.8,211.3 392.0,200.0 398.6,192.9 404.0,194.0 410.5,199.0 418.1,195.1 426.8,203.8 436.5,211.0 444.1,208.1 448.5,199.4 450.6,189.7 461.5,187.5 478.8,185.3 495.4,174.0 498.7,184.8 511.7,193.5 522.5,191.3 537.7,180.5 555.1,194.6 559.4,183.8 576.8,126.3 578.9,155.6 592.0,164.2 600.6,144.7 618.0,143.6 622.3,145.8 632.1,144.7 637.4,150.6 646.0,156.0 680.7,157.1 685.1,171.2 694.8,177.7 702.4,175.6 710.0,174.5 715.4,178.8 724.1,182.1 732.8,192.9 740.4,212.4 751.2,210.3 760.9,200.0 763.8,184.8 766.7,186.2 768.9,183.4 772.5,180.5 775.4,181.9" fill="none" stroke="#f6dd1c" stroke-width="3.4" stroke-linejoin="round" stroke-linecap="round"/>
<circle cx="45.5" cy="173.4" r="3.6" fill="#f6dd1c" stroke="#333" stroke-opacity="0.6" stroke-width="1"/>
<circle cx="45.5" cy="194.5" r="3.6" fill="#17795a" stroke="#333" stroke-opacity="0.6" stroke-width="1"/>
<circle cx="45.5" cy="264.1" r="3.6" fill="#e01c1c" stroke="#333" stroke-opacity="0.6" stroke-width="1"/>
<circle cx="45.5" cy="274.9" r="3.6" fill="#1c9fd8" stroke="#333" stroke-opacity="0.6" stroke-width="1"/>
<circle cx="45.5" cy="311.2" r="3.6" fill="#2191d2" stroke="#333" stroke-opacity="0.6" stroke-width="1"/>
<circle cx="45.5" cy="315.6" r="3.6" fill="#1b63a6" stroke="#333" stroke-opacity="0.6" stroke-width="1"/>
<circle cx="45.5" cy="367.8" r="3.6" fill="#84b943" stroke="#333" stroke-opacity="0.6" stroke-width="1"/>
<circle cx="776.6" cy="362.7" r="3.6" fill="#8a8a8a" stroke="#333" stroke-opacity="0.6" stroke-width="1"/>
<circle cx="776.6" cy="365.6" r="3.6" fill="#2191d2" stroke="#333" stroke-opacity="0.6" stroke-width="1"/>
<circle cx="776.6" cy="361.2" r="3.6" fill="#84b943" stroke="#333" stroke-opacity="0.6" stroke-width="1"/>
<circle cx="776.6" cy="342.4" r="3.6" fill="#1b7a8a" stroke="#333" stroke-opacity="0.6" stroke-width="1"/>
<circle cx="776.6" cy="303.2" r="3.6" fill="#e01c1c" stroke="#333" stroke-opacity="0.6" stroke-width="1"/>
<circle cx="776.6" cy="291.6" r="3.6" fill="#1c9fd8" stroke="#333" stroke-opacity="0.6" stroke-width="1"/>
<circle cx="776.6" cy="245.2" r="3.6" fill="#1b63a6" stroke="#333" stroke-opacity="0.6" stroke-width="1"/>
<circle cx="776.6" cy="206.8" r="3.6" fill="#17795a" stroke="#333" stroke-opacity="0.6" stroke-width="1"/>
<circle cx="776.6" cy="164.7" r="3.6" fill="#f6dd1c" stroke="#333" stroke-opacity="0.6" stroke-width="1"/>
<text x="37" y="15.4" text-anchor="end" font-size="10.1" textLength="18.4" lengthAdjust="spacingAndGlyphs" fill="#383838" stroke="#383838" stroke-width="0.2">50%</text>
<text x="37" y="51.7" text-anchor="end" font-size="10.1" textLength="18.4" lengthAdjust="spacingAndGlyphs" fill="#383838" stroke="#383838" stroke-width="0.2">45%</text>
<text x="37" y="87.9" text-anchor="end" font-size="10.1" textLength="18.4" lengthAdjust="spacingAndGlyphs" fill="#383838" stroke="#383838" stroke-width="0.2">40%</text>
<text x="37" y="124.2" text-anchor="end" font-size="10.1" textLength="18.4" lengthAdjust="spacingAndGlyphs" fill="#383838" stroke="#383838" stroke-width="0.2">35%</text>
<text x="37" y="160.4" text-anchor="end" font-size="10.1" textLength="18.4" lengthAdjust="spacingAndGlyphs" fill="#383838" stroke="#383838" stroke-width="0.2">30%</text>
<text x="37" y="196.7" text-anchor="end" font-size="10.1" textLength="18.4" lengthAdjust="spacingAndGlyphs" fill="#383838" stroke="#383838" stroke-width="0.2">25%</text>
<text x="37" y="233.0" text-anchor="end" font-size="10.1" textLength="18.4" lengthAdjust="spacingAndGlyphs" fill="#383838" stroke="#383838" stroke-width="0.2">20%</text>
<text x="37" y="269.2" text-anchor="end" font-size="10.1" textLength="18.4" lengthAdjust="spacingAndGlyphs" fill="#383838" stroke="#383838" stroke-width="0.2">15%</text>
<text x="37" y="305.5" text-anchor="end" font-size="10.1" textLength="18.4" lengthAdjust="spacingAndGlyphs" fill="#383838" stroke="#383838" stroke-width="0.2">10%</text>
<text x="37" y="341.7" text-anchor="end" font-size="10.1" textLength="13.3" lengthAdjust="spacingAndGlyphs" fill="#383838" stroke="#383838" stroke-width="0.2">5%</text>
<text x="37" y="378.0" text-anchor="end" font-size="10.1" textLength="13.3" lengthAdjust="spacingAndGlyphs" fill="#383838" stroke="#383838" stroke-width="0.2">0%</text>
<text transform="translate(47.5,395) rotate(-16)" text-anchor="end" font-size="11.6" textLength="35" lengthAdjust="spacingAndGlyphs" fill="#3a3a3a" stroke="#3a3a3a" stroke-width="0.25">2015-03</text>
<text transform="translate(93.5,395) rotate(-16)" text-anchor="end" font-size="11.6" textLength="35" lengthAdjust="spacingAndGlyphs" fill="#3a3a3a" stroke="#3a3a3a" stroke-width="0.25">2015-06</text>
<text transform="translate(139.4,395) rotate(-16)" text-anchor="end" font-size="11.6" textLength="35" lengthAdjust="spacingAndGlyphs" fill="#3a3a3a" stroke="#3a3a3a" stroke-width="0.25">2015-09</text>
<text transform="translate(184.9,395) rotate(-16)" text-anchor="end" font-size="11.6" textLength="35" lengthAdjust="spacingAndGlyphs" fill="#3a3a3a" stroke="#3a3a3a" stroke-width="0.25">2015-12</text>
<text transform="translate(230.4,395) rotate(-16)" text-anchor="end" font-size="11.6" textLength="35" lengthAdjust="spacingAndGlyphs" fill="#3a3a3a" stroke="#3a3a3a" stroke-width="0.25">2016-03</text>
<text transform="translate(276.3,395) rotate(-16)" text-anchor="end" font-size="11.6" textLength="35" lengthAdjust="spacingAndGlyphs" fill="#3a3a3a" stroke="#3a3a3a" stroke-width="0.25">2016-06</text>
<text transform="translate(322.3,395) rotate(-16)" text-anchor="end" font-size="11.6" textLength="35" lengthAdjust="spacingAndGlyphs" fill="#3a3a3a" stroke="#3a3a3a" stroke-width="0.25">2016-09</text>
<text transform="translate(367.8,395) rotate(-16)" text-anchor="end" font-size="11.6" textLength="35" lengthAdjust="spacingAndGlyphs" fill="#3a3a3a" stroke="#3a3a3a" stroke-width="0.25">2016-12</text>
<text transform="translate(412.7,395) rotate(-16)" text-anchor="end" font-size="11.6" textLength="35" lengthAdjust="spacingAndGlyphs" fill="#3a3a3a" stroke="#3a3a3a" stroke-width="0.25">2017-03</text>
<text transform="translate(458.7,395) rotate(-16)" text-anchor="end" font-size="11.6" textLength="35" lengthAdjust="spacingAndGlyphs" fill="#3a3a3a" stroke="#3a3a3a" stroke-width="0.25">2017-06</text>
<text transform="translate(504.7,395) rotate(-16)" text-anchor="end" font-size="11.6" textLength="35" lengthAdjust="spacingAndGlyphs" fill="#3a3a3a" stroke="#3a3a3a" stroke-width="0.25">2017-09</text>
<text transform="translate(550.2,395) rotate(-16)" text-anchor="end" font-size="11.6" textLength="35" lengthAdjust="spacingAndGlyphs" fill="#3a3a3a" stroke="#3a3a3a" stroke-width="0.25">2017-12</text>
<text transform="translate(595.1,395) rotate(-16)" text-anchor="end" font-size="11.6" textLength="35" lengthAdjust="spacingAndGlyphs" fill="#3a3a3a" stroke="#3a3a3a" stroke-width="0.25">2018-03</text>
<text transform="translate(641.1,395) rotate(-16)" text-anchor="end" font-size="11.6" textLength="35" lengthAdjust="spacingAndGlyphs" fill="#3a3a3a" stroke="#3a3a3a" stroke-width="0.25">2018-06</text>
<text transform="translate(687.1,395) rotate(-16)" text-anchor="end" font-size="11.6" textLength="35" lengthAdjust="spacingAndGlyphs" fill="#3a3a3a" stroke="#3a3a3a" stroke-width="0.25">2018-09</text>
<text transform="translate(732.5,395) rotate(-16)" text-anchor="end" font-size="11.6" textLength="35" lengthAdjust="spacingAndGlyphs" fill="#3a3a3a" stroke="#3a3a3a" stroke-width="0.25">2018-12</text>
<text transform="translate(777.5,395) rotate(-16)" text-anchor="end" font-size="11.6" textLength="35" lengthAdjust="spacingAndGlyphs" fill="#3a3a3a" stroke="#3a3a3a" stroke-width="0.25">2019-03</text>
<rect x="825.5" y="37.6" width="109.1" height="32.6" fill="url(#gref)"/>
<text x="815.8" y="57.5" text-anchor="end" font-size="9.6" fill="#3a3a3a" stroke="#3a3a3a" stroke-width="0.25">Ref</text>
<text x="846.7" y="53.1" text-anchor="middle" font-size="9.6" fill="#262626" stroke="#262626" stroke-width="0.25">26,6%</text>
<text x="846.7" y="63.4" text-anchor="middle" font-size="8.4" fill="#262626" stroke="#262626" stroke-width="0.15">(28,9%)</text>
<rect x="825.5" y="78.5" width="103.7" height="32.6" fill="url(#gkesk)"/>
<text x="815.8" y="98.4" text-anchor="end" font-size="9.6" fill="#3a3a3a" stroke="#3a3a3a" stroke-width="0.25">Kesk</text>
<text x="846.7" y="94.0" text-anchor="middle" font-size="9.6" fill="#262626" stroke="#262626" stroke-width="0.25">25,3%</text>
<text x="846.7" y="104.3" text-anchor="middle" font-size="8.4" fill="#262626" stroke="#262626" stroke-width="0.15">(23,1%)</text>
<rect x="825.5" y="119.4" width="43.0" height="32.6" fill="url(#gsde)"/>
<text x="815.8" y="139.3" text-anchor="end" font-size="9.6" fill="#3a3a3a" stroke="#3a3a3a" stroke-width="0.25">SDE</text>
<text x="845.6" y="134.9" text-anchor="middle" font-size="9.6" fill="#262626" stroke="#262626" stroke-width="0.25">10,5%</text>
<text x="845.6" y="145.2" text-anchor="middle" font-size="8.4" fill="#262626" stroke="#262626" stroke-width="0.15">(9,8%)</text>
<rect x="825.5" y="160.3" width="40.2" height="32.6" fill="url(#gi)"/>
<text x="815.8" y="180.2" text-anchor="end" font-size="9.6" fill="#3a3a3a" stroke="#3a3a3a" stroke-width="0.25">I</text>
<text x="846.7" y="175.8" text-anchor="middle" font-size="9.6" fill="#262626" stroke="#262626" stroke-width="0.25">9,8%</text>
<text x="846.7" y="186.1" text-anchor="middle" font-size="8.4" fill="#262626" stroke="#262626" stroke-width="0.15">(11,4%)</text>
<rect x="825.5" y="201.2" width="5.7" height="32.6" fill="url(#geva)"/>
<text x="815.8" y="221.1" text-anchor="end" font-size="9.6" fill="#3a3a3a" stroke="#3a3a3a" stroke-width="0.25">EVA</text>
<text x="844.4" y="216.7" text-anchor="middle" font-size="9.6" fill="#262626" stroke="#262626" stroke-width="0.25">1,4%</text>
<text x="844.4" y="227.0" text-anchor="middle" font-size="8.4" fill="#262626" stroke="#262626" stroke-width="0.15">(1,2%)</text>
<rect x="825.5" y="242.1" width="73.4" height="32.6" fill="url(#gekre)"/>
<text x="815.8" y="262.0" text-anchor="end" font-size="9.6" fill="#3a3a3a" stroke="#3a3a3a" stroke-width="0.25">EKRE</text>
<text x="846.7" y="257.6" text-anchor="middle" font-size="9.6" fill="#262626" stroke="#262626" stroke-width="0.25">17,9%</text>
<text x="846.7" y="267.9" text-anchor="middle" font-size="8.4" fill="#262626" stroke="#262626" stroke-width="0.15">(17,8%)</text>
<rect x="825.5" y="283.0" width="10.2" height="32.6" fill="url(#ggreen)"/>
<text x="815.8" y="302.9" text-anchor="end" font-size="9.6" fill="#3a3a3a" stroke="#3a3a3a" stroke-width="0.25">Green</text>
<text x="844.4" y="298.5" text-anchor="middle" font-size="9.6" fill="#262626" stroke="#262626" stroke-width="0.25">2,5%</text>
<text x="844.4" y="308.8" text-anchor="middle" font-size="8.4" fill="#262626" stroke="#262626" stroke-width="0.15">(1,8%)</text>
<rect x="825.5" y="323.9" width="16.8" height="32.6" fill="url(#ge200)"/>
<text x="815.8" y="343.8" text-anchor="end" font-size="9.6" fill="#3a3a3a" stroke="#3a3a3a" stroke-width="0.25">E200</text>
<text x="844.4" y="339.4" text-anchor="middle" font-size="9.6" fill="#262626" stroke="#262626" stroke-width="0.25">4,1%</text>
<text x="844.4" y="349.7" text-anchor="middle" font-size="8.4" fill="#262626" stroke="#262626" stroke-width="0.15">(4,4%)</text>
<rect x="825.5" y="364.8" width="7.8" height="32.6" fill="url(#goth)"/>
<text x="815.8" y="384.7" text-anchor="end" font-size="9.6" fill="#3a3a3a" stroke="#3a3a3a" stroke-width="0.25">Others</text>
<text x="844.4" y="380.3" text-anchor="middle" font-size="9.6" fill="#262626" stroke="#262626" stroke-width="0.25">1,9%</text>
<text x="844.4" y="390.6" text-anchor="middle" font-size="8.4" fill="#262626" stroke="#262626" stroke-width="0.15">(1,6%)</text>
<line x1="825.5" y1="34" x2="825.5" y2="400" stroke="#d0d0d0" stroke-width="1"/>
<text x="871.4" y="15.9" text-anchor="middle" font-family="Liberation Serif" font-size="13.1" fill="#262626" stroke="#262626" stroke-width="0.3">15 day average - 2019-02-28</text>
<text x="871" y="28.8" text-anchor="middle" font-family="Liberation Serif" font-size="10.5" fill="#262626" stroke="#262626" stroke-width="0.15">(election results)</text>
</svg>
</body></html>
